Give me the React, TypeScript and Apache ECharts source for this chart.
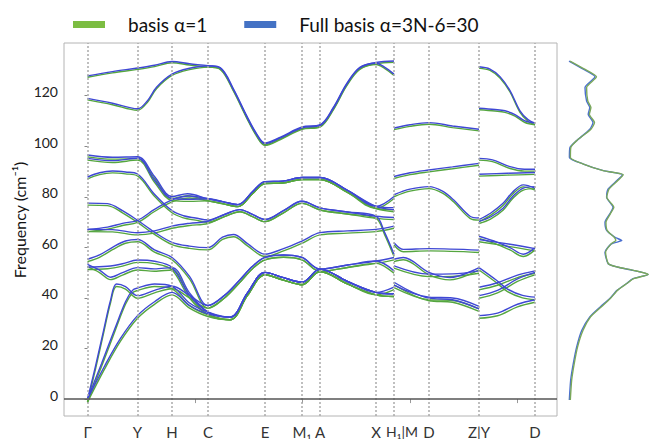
import React, { useEffect, useRef } from "react";
import * as echarts from "echarts";

// High-symmetry points along the path (path length units) and their labels
const KPOS = [0, 50, 84.5, 120.5, 177.5, 214.5, 232.5, 288.5, 306.5, 341.5, 391.5, 447.5];
const KLABELS = ["Γ", "Y", "H", "C", "E", "M₁", "A", "X", "{hm|H₁|M}", "D", "Z|Y", "D"];
const FREQ_TICKS = [0, 20, 40, 60, 80, 100, 120];
const PATH_TICKS = [0, 107.5, 215, 322.5, 430];

const BASIS1 = "basis α=1";
const FULL = "Full basis α=3N-6=30";

// ---- Γ → H₁ segment: [path, frequency cm^-1]
const gh_t1 = [[0,127.8],[25,129.5],[50,130.9],[67,132],[84.5,133.5],[102,132.6],[120.5,131.8],[133,131],[146,122.6],[159,112.2],[169,105],[177.5,101.3],[193,103.6],[214.5,107.6],[232.5,108.5],[246,115.4],[259,124.6],[272,131.1],[288.5,133.1],[306.5,133.7]];
const gh_t2 = [[0,118.9],[25,117],[50,114.8],[60,118],[69,123.3],[84.5,128.5],[102,130.8],[120.5,131.8],[133,130.8],[146,122.3],[159,111.9],[169,104.7],[177.5,101],[193,103.3],[214.5,107.3],[232.5,108.2],[246,115.1],[259,124.3],[272,130.8],[288.5,132.8],[297,131.3],[306.5,128.5]];
const gh_b3 = [[0,96.5],[25,95.6],[50,95.8],[67,88],[84.5,80.1],[100,81.2],[120.5,79.2],[136,78],[150.5,76.9],[165,82],[177.5,86],[195,86.2],[214.5,87.6],[232.5,87.6],[260,82.5],[288.5,76.2],[306.5,80.1]];
const gh_b4 = [[0,95.2],[25,94.3],[50,95.2],[67,86.5],[84.5,79.3],[102,79],[120.5,79.2],[136,78],[150.5,76.9],[165,82],[177.5,86],[195,86.2],[214.5,87.6],[232.5,87.6],[260,82.5],[288.5,76.2],[306.5,74.9]];
const gh_b4b = [[0,87.8],[12,89.5],[25,90.2],[38,89.8],[50,89],[67,81],[84.5,74.5],[96,72.5],[108,71.6],[120.5,70.8],[137,73],[152.5,74.9],[165,73],[177.5,71],[196,74.5],[214.5,78.2],[232.5,75.6],[260,74],[288.5,72.3],[306.5,71.8]];
const gh_b5 = [[0,67.1],[20,68],[35,69.5],[50,70.7],[67,75],[84.5,78.8],[102,80.3],[120.5,79.2],[136,78],[150.5,76.9],[165,82],[177.5,86],[195,86.2],[214.5,87.6],[232.5,87.6],[260,82.5],[288.5,76.2],[306.5,75.7]];
const gh_b6 = [[0,67.1],[25,67],[50,65.8],[67,66.5],[84.5,68.4],[102,69.5],[120.5,70.3],[137,73],[152.5,74.9],[165,73],[177.5,71],[196,74.5],[214.5,78.2],[232.5,75.6],[260,74],[288.5,72.3],[297,66],[306.5,57.3]];
const gh_b7 = [[0,77.5],[20,77.3],[35,74.5],[50,70.7],[67,66],[84.5,62],[102,60.5],[120.5,59.9],[135,64],[146,65.1],[160,61.5],[177.5,57.3],[196,59.5],[214.5,62.5],[232.5,65.8],[260,66.5],[288.5,67.1],[306.5,68.4]];
const gh_b8 = [[0,55.3],[12,57],[25,60],[38,62.5],[50,63.1],[67,59],[84.5,56],[102,48.5],[120.5,37],[137,41],[152,47],[165,52.5],[177.5,56],[196,57],[214.5,56],[232.5,51.4],[260,53],[288.5,54.6],[306.5,56]];
const gh_b9 = [[0,53.3],[12,51],[23,48.2],[35,50],[50,52],[67,51.5],[84.5,52],[102,42],[120.5,34.4],[142.5,32.4],[160,42],[177.5,50.1],[196,48],[214.5,46.2],[232.5,51.4],[260,46.5],[288.5,42.2],[306.5,44.3]];
const gh_b10 = [[0,52.2],[20,52.5],[35,53.5],[50,55],[67,54.5],[84.5,52],[102,41],[120.5,34.4],[142.5,32.4],[160,42],[177.5,50.1],[196,48],[214.5,46.2],[232.5,51.4],[260,46.5],[288.5,42.2],[306.5,41.6]];
const gh_a1 = [[0,0],[8,13],[16,27],[23,39],[29,45.5],[38,44.5],[50,40.9],[67,43],[84.5,44.6],[102,41],[120.5,37],[137,41],[152,47],[165,52.5],[177.5,56],[196,57],[214.5,56],[232.5,51.4],[260,53],[288.5,54.6],[306.5,50.7]];
const gh_a2 = [[0,0],[14,14],[28,28.5],[38,38.5],[45,43],[50,43.9],[67,45.5],[84.5,44.6],[102,38],[120.5,34.4],[142.5,32.4],[160,42],[177.5,50.1],[196,48],[214.5,46.2],[232.5,51.4],[260,46.5],[288.5,42.2],[306.5,41.6]];
const gh_a3 = [[0,0],[17,13],[33,24],[50,33],[67,38.5],[84.5,42.2],[102,37],[120.5,33.7],[142.5,32.4],[160,42],[177.5,50.1],[196,48],[214.5,46.2],[232.5,51.4],[260,46.5],[288.5,42.2],[306.5,41.6]];

// ---- M → D → Z segment
const mz_1 = [[306.5,107.2],[322.5,108.5],[341.5,109.3],[365,108],[391.5,106.7]];
const mz_2 = [[306.5,88],[322.5,89.5],[341.5,90.6],[365,91.8],[391.5,93.2]];
const mz_3 = [[306.5,80.8],[322.5,83],[341.5,84],[355,82.2],[366,78.8],[382.5,72.3],[391.5,71.6]];
const mz_4 = [[306.5,61.8],[315.8,59.2],[341.5,59.5],[391.5,58.9]];
const mz_5 = [[306.5,55.3],[315.8,56],[341.5,50.1],[362.5,48.1],[391.5,52]];
const mz_6 = [[306.5,52.7],[341.5,49.4],[365,49.5],[391.5,50.7]];
const mz_7 = [[306.5,46.2],[341.5,39.9],[365,39.3],[391.5,35.7]];
const mz_8 = [[306.5,45.1],[341.5,40.3],[365,40],[391.5,36.7]];

// ---- Y → D segment
const yd_1 = [[391.5,131.4],[402.5,130.5],[412.5,127.5],[422.5,122],[432.5,114],[440.5,110.5],[447.5,109.1]];
const yd_2 = [[391.5,115],[407.5,114.5],[417.5,114],[427.5,112.5],[437.5,110],[447.5,109.1]];
const yd_3 = [[391.5,95.2],[405,94.6],[422.5,91.9],[437,90.9],[447.5,90.9]];
const yd_4 = [[391.5,88.9],[420,89.3],[447.5,89.6]];
const yd_5 = [[391.5,71],[403,73.5],[415.8,77.5],[425,81.8],[435.8,84.7],[447.5,83.4]];
const yd_6 = [[391.5,70.3],[403,72],[415.8,75.6],[425,80],[435.8,83.4],[447.5,84]];
const yd_7 = [[391.5,64.4],[410,62],[422.5,59.9],[435.8,57.3],[447.5,59.9]];
const yd_8 = [[391.5,63.1],[422.5,61.2],[447.5,59.5]];
const yd_9 = [[391.5,52],[409,47],[420,43.5],[435,41],[447.5,40.3]];
const yd_10 = [[391.5,44.2],[410,46],[430,49],[447.5,50.7]];
const yd_11 = [[391.5,40.9],[410,43],[430,47.5],[447.5,50.1]];
const yd_12 = [[391.5,33],[410,34],[430,37.5],[447.5,39.3]];

// ---- Density of states (frequency, density in arbitrary units)
const dosFreq = [133.7,130.5,127.5,123.3,118,115.4,112.8,109.5,106.9,102.4,99.7,95.8,93.2,90.6,89,86.7,83.4,80.1,76.2,73.6,70.3,67.1,64.4,63.1,61.8,58.5,54,52.7,51.4,49.8,48.1,46.2,43.5,40.3,37,33.1,27.8,21.3,14.8,8.2,0.4];
const dosFull = [0,17.9,32.5,20,22,26,24,30,26,9.6,1.2,0.5,18,43,67,60,49,47,55,51,45,47,57.5,66,53,45,49,60,80,99,80,72,60,51,39,26,16,9.6,5.4,2.1,0.4];
const dosBasis1 = [0,18.5,33.5,21,22.5,26.5,24.5,31,26.5,8.5,1,0.5,17,42,67.5,60.5,49.5,46.5,55.5,51,45.5,47,56,58,52,45,48.5,60,80.5,99,80.5,72,60,51,39.5,26,16.5,9.6,5.4,2.1,0.4];

const bands = [
  gh_t1, gh_t2, gh_b3, gh_b4, gh_b4b, gh_b5, gh_b6, gh_b7, gh_b8, gh_b9, gh_b10, gh_a1, gh_a2, gh_a3,
  mz_1, mz_2, mz_3, mz_4, mz_5, mz_6, mz_7, mz_8,
  yd_1, yd_2, yd_3, yd_4, yd_5, yd_6, yd_7, yd_8, yd_9, yd_10, yd_11, yd_12,
];

const BLUE = "#3f48d4";
const GREEN = "#55a63f";
const FONT = "Lato, 'Open Sans', sans-serif";
const Y_MIN = -6.686;
const Y_MAX = 140.8;

export default function App() {
  const ref = useRef<HTMLDivElement>(null);

  useEffect(() => {
    if (!ref.current) return;
    const chart = echarts.init(ref.current, null, { renderer: "svg" });

    const hiddenX = (grid: number, min: number, max: number) => ({
      gridIndex: grid, type: "value", min, max, show: false,
    });
    const hiddenY = (grid: number) => ({
      gridIndex: grid, type: "value", min: Y_MIN, max: Y_MAX, show: false,
    });

    const bandSeries = (axis: number, name: string, color: string) =>
      bands.map((b) => ({
        type: "line",
        name,
        xAxisIndex: axis,
        yAxisIndex: axis,
        data: b,
        smooth: 0.35,
        symbol: "none",
        silent: true,
        lineStyle: { color, width: 1.4 },
        itemStyle: { color },
      }));

    const dosData = (vals: number[]) => vals.map((d, i) => [d, dosFreq[i]]);

    chart.setOption({
      animation: false,
      backgroundColor: "#ffffff",
      legend: {
        left: 68,
        top: 10,
        icon: "rect",
        itemWidth: 32,
        itemHeight: 7,
        itemGap: 37,
        selectedMode: false,
        textStyle: { fontSize: 19, color: "#111", fontFamily: FONT, padding: [0, 0, 0, 18] },
        data: [
          { name: BASIS1, itemStyle: { color: "#7cbd42" } },
          { name: FULL, itemStyle: { color: "#4472c4" } },
        ],
      },
      grid: [
        { left: 64, top: 43, width: 493, height: 375, show: true, borderColor: "#b4b4b4", borderWidth: 1 },
        { left: 64, top: 44.2, width: 493, height: 375 },
        { left: 569, top: 43, width: 80, height: 375 },
        { left: 570, top: 43, width: 80, height: 375 },
      ],
      xAxis: [
        {
          gridIndex: 0,
          type: "value",
          min: -23.5,
          max: 469.5,
          axisLine: { show: false },
          splitLine: { show: false },
          axisTick: { show: true, customValues: PATH_TICKS, length: 4, lineStyle: { color: "#999" } },
          axisLabel: {
            customValues: KPOS,
            formatter: (v: number) => KLABELS[KPOS.indexOf(v)] ?? "",
            fontSize: 15,
            color: "#333",
            fontFamily: FONT,
            margin: 8,
            rich: {
              hm: { fontSize: 14, color: "#333", fontFamily: FONT, padding: [0, 0, 0, 16] },
            },
          },
        },
        hiddenX(1, -23.5, 469.5),
        hiddenX(2, 0, 100),
        hiddenX(3, 0, 100),
      ],
      yAxis: [
        {
          gridIndex: 0,
          type: "value",
          min: Y_MIN,
          max: Y_MAX,
          axisLine: { show: false },
          splitLine: { show: false },
          axisTick: { show: true, customValues: FREQ_TICKS, length: 3, lineStyle: { color: "#888" } },
          axisLabel: {
            customValues: FREQ_TICKS,
            fontSize: 14,
            color: "#222",
            fontFamily: FONT,
            margin: 6,
            verticalAlign: "bottom",
            lineHeight: 8,
          },
        },
        hiddenY(1),
        hiddenY(2),
        hiddenY(3),
      ],
      graphic: [
        {
          type: "text",
          x: 19,
          y: 220,
          rotation: Math.PI / 2,
          style: {
            text: "Frequency (cm⁻¹)",
            fontSize: 16,
            fontFamily: FONT,
            fill: "#111",
            align: "center",
            verticalAlign: "middle",
          },
        },
      ],
      series: [
        {
          type: "line",
          xAxisIndex: 0,
          yAxisIndex: 0,
          data: [],
          silent: true,
          markLine: {
            silent: true,
            symbol: ["none", "none"],
            label: { show: false },
            lineStyle: { color: "#aaaaaa", type: [2, 2], width: 1.5 },
            data: [
              ...KPOS.map((k) => ({ xAxis: k })),
              { yAxis: 0, lineStyle: { color: "#555", type: "solid", width: 1.5 } },
            ],
          },
        },
        ...bandSeries(1, BASIS1, GREEN),
        ...bandSeries(0, FULL, BLUE),
        {
          type: "line",
          name: FULL,
          xAxisIndex: 2,
          yAxisIndex: 2,
          data: dosData(dosFull),
          smooth: 0.2,
          symbol: "none",
          silent: true,
          lineStyle: { color: "#4a6fd0", width: 1.4 },
          itemStyle: { color: "#4a6fd0" },
        },
        {
          type: "line",
          name: BASIS1,
          xAxisIndex: 3,
          yAxisIndex: 3,
          data: dosData(dosBasis1),
          smooth: 0.2,
          symbol: "none",
          silent: true,
          lineStyle: { color: "#7aa85a", width: 1.4 },
          itemStyle: { color: "#7aa85a" },
        },
      ],
    });

    return () => chart.dispose();
  }, []);

  return (
    <div
      ref={ref}
      style={{ position: "fixed", left: 0, top: 0, width: 649, height: 439, background: "#fff" }}
    />
  );
}
